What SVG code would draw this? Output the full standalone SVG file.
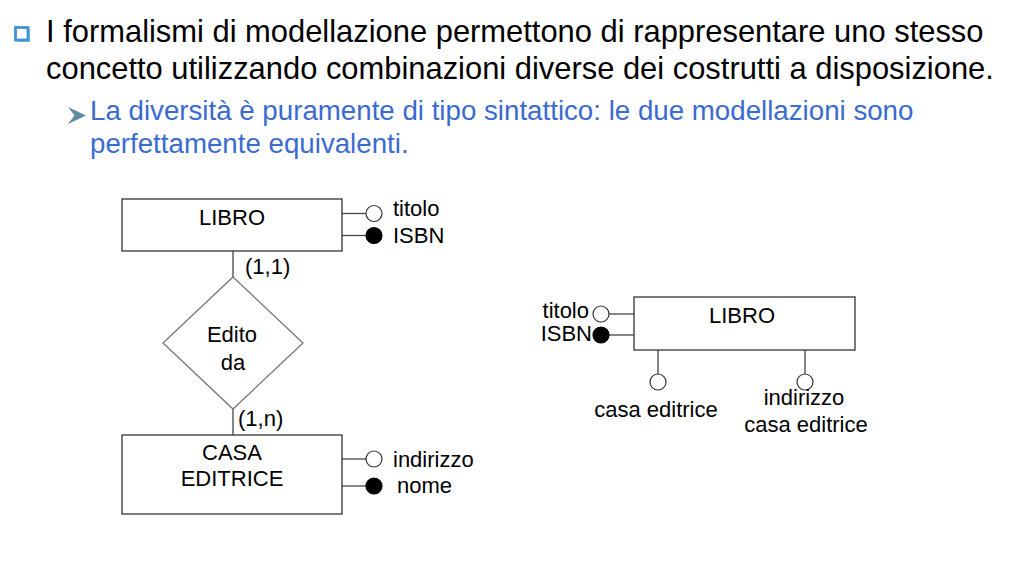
<svg xmlns="http://www.w3.org/2000/svg" width="1010" height="568" viewBox="0 0 1010 568">
<style>
.h1{font-family:"Liberation Sans",Arial,sans-serif;font-size:30.9px;fill:#000}
.h2{font-family:"Liberation Sans",Arial,sans-serif;font-size:27.7px;fill:#3a6bd0}
.t{font-family:"Liberation Sans",Arial,sans-serif;font-size:22px;fill:#000}
.c{text-anchor:middle}
.e{text-anchor:end}
.box{fill:#fff;stroke:#333;stroke-width:1.3}
.rel{fill:#fff;stroke:#777;stroke-width:1.3}
.ln{stroke:#444;stroke-width:1.3;fill:none}
.ao{fill:#fff;stroke:#333;stroke-width:1.2}
.af{fill:#000;stroke:#000;stroke-width:1.2}
</style>
<rect width="1010" height="568" fill="#fff"/>
<g id="header">
<rect x="17" y="29" width="13" height="13" fill="#8fbce3"/>
<rect x="15.5" y="27.5" width="12.5" height="12.5" fill="#fff" stroke="#3d93d6" stroke-width="2.8"/>
<text class="h1" x="46" y="42">I formalismi di modellazione permettono di rappresentare uno stesso</text>
<text class="h1" x="46" y="79">concetto utilizzando combinazioni diverse dei costrutti a disposizione.</text>
<polygon points="68,107 86,115.5 68,124 74.5,115.5" fill="#5e8ca3"/>
<text class="h2" x="90" y="120">La diversità è puramente di tipo sintattico: le due modellazioni sono</text>
<text class="h2" x="90" y="153">perfettamente equivalenti.</text>
</g>
<g id="connectors">
<line class="ln" x1="233" y1="251" x2="233" y2="277"/>
<line class="ln" x1="233" y1="409" x2="233" y2="435"/>
<line class="ln" x1="342" y1="213.5" x2="366" y2="213.5"/>
<line class="ln" x1="342" y1="235.5" x2="366" y2="235.5"/>
<line class="ln" x1="342" y1="459" x2="366" y2="459"/>
<line class="ln" x1="342" y1="486" x2="366" y2="486"/>
<line class="ln" x1="609" y1="314" x2="634" y2="314"/>
<line class="ln" x1="609" y1="335" x2="634" y2="335"/>
<line class="ln" x1="658" y1="350" x2="658" y2="374"/>
<line class="ln" x1="805" y1="350" x2="805" y2="374"/>
</g>
<g id="libro-left">
<rect class="box" x="122" y="199" width="220" height="52"/>
<text class="t c" x="232" y="225">LIBRO</text>
</g>
<g id="attr-titolo-left">
<circle class="ao" cx="374" cy="213.5" r="8"/>
<text class="t" x="393" y="216">titolo</text>
</g>
<g id="attr-isbn-left">
<circle class="af" cx="374" cy="235.5" r="8"/>
<text class="t" x="393" y="243">ISBN</text>
</g>
<g id="card-11">
<text class="t" x="245" y="274">(1,1)</text>
</g>
<g id="rel-edito">
<polygon class="rel" points="233,277 303,343 233,409 163,343"/>
<text class="t c" x="232" y="342">Edito</text>
<text class="t c" x="233" y="370">da</text>
</g>
<g id="card-1n">
<text class="t" x="238" y="426">(1,n)</text>
</g>
<g id="casa-editrice">
<rect class="box" x="122" y="435" width="220" height="79"/>
<text class="t c" x="232" y="460">CASA</text>
<text class="t c" x="232" y="486">EDITRICE</text>
</g>
<g id="attr-indirizzo-left">
<circle class="ao" cx="374" cy="459" r="8"/>
<text class="t" x="393" y="467">indirizzo</text>
</g>
<g id="attr-nome-left">
<circle class="af" cx="374" cy="486" r="8"/>
<text class="t" x="397" y="493">nome</text>
</g>
<g id="libro-right">
<rect class="box" x="634" y="297" width="221" height="53"/>
<text class="t c" x="742" y="323">LIBRO</text>
</g>
<g id="attr-titolo-right">
<circle class="ao" cx="601" cy="314" r="8"/>
<text class="t e" x="589" y="318">titolo</text>
</g>
<g id="attr-isbn-right">
<circle class="af" cx="601" cy="335" r="8"/>
<text class="t e" x="592" y="341">ISBN</text>
</g>
<g id="attr-casa-right">
<circle class="ao" cx="658" cy="382" r="8"/>
<text class="t c" x="656" y="417">casa editrice</text>
</g>
<g id="attr-indirizzo-right">
<circle class="ao" cx="805" cy="382" r="8"/>
<text class="t c" x="804" y="405">indirizzo</text>
<text class="t c" x="806" y="432">casa editrice</text>
</g>
</svg>
